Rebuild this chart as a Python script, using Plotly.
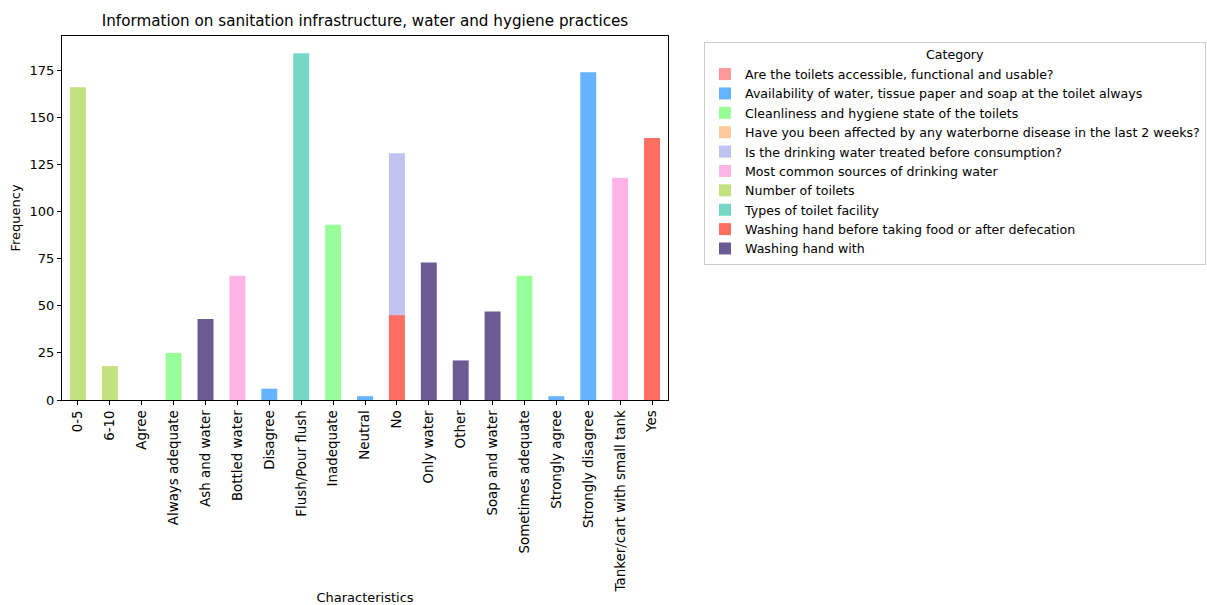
import plotly.graph_objects as go

characteristics = ["0-5", "6-10", "Agree", "Always adequate", "Ash and water", "Bottled water",
                   "Disagree", "Flush/Pour flush", "Inadequate", "Neutral", "No", "Only water",
                   "Other", "Soap and water", "Sometimes adequate", "Strongly agree",
                   "Strongly disagree", "Tanker/cart with small tank", "Yes"]

categories = [
    "Are the toilets accessible, functional and usable?",
    "Availability of water, tissue paper and soap at the toilet always",
    "Cleanliness and hygiene state of the toilets",
    "Have you been affected by any waterborne disease in the last 2 weeks?",
    "Is the drinking water treated before consumption?",
    "Most common sources of drinking water",
    "Number of toilets",
    "Types of toilet facility",
    "Washing hand before taking food or after defecation",
    "Washing hand with",
]

colors = ["#FF9999", "#66B3FF", "#99FF99", "#FFCC99", "#C2C2F0",
          "#FFB3E6", "#C4E17F", "#76D7C4", "#FF6F61", "#6B5B95"]

# counts per category, keyed by characteristic
toilets_accessible = {"Agree": 0}
availability = {"Disagree": 6, "Neutral": 2, "Strongly agree": 2, "Strongly disagree": 174}
cleanliness = {"Always adequate": 25, "Inadequate": 93, "Sometimes adequate": 66}
waterborne = {}
water_treated = {"No": 131}
drinking_sources = {"Bottled water": 66, "Tanker/cart with small tank": 118}
number_of_toilets = {"0-5": 166, "6-10": 18}
toilet_types = {"Flush/Pour flush": 184}
washing_before = {"No": 45, "Yes": 139}
washing_with = {"Ash and water": 43, "Only water": 73, "Other": 21, "Soap and water": 47}

series = [toilets_accessible, availability, cleanliness, waterborne, water_treated,
          drinking_sources, number_of_toilets, toilet_types, washing_before, washing_with]

W, H = 1207, 605
L, R, T, B = 62, 668, 36, 400  # plot area edges in pixels

fig = go.Figure()
for name, color, data in zip(categories, colors, series):
    xs = list(data.keys()) if data else [characteristics[0]]
    ys = list(data.values()) if data else [0]
    fig.add_trace(go.Bar(
        x=xs, y=ys, name=name, width=0.5,
        marker=dict(color=color, line=dict(width=0)),
    ))

font = "DejaVu Sans, Liberation Sans, sans-serif"
fig.update_layout(
    width=W, height=H,
    margin=dict(l=L, r=W - R, t=T, b=H - B, autoexpand=False),
    barmode="overlay",
    plot_bgcolor="white", paper_bgcolor="white",
    font=dict(family=font, size=13, color="#000000"),
    title=dict(text="Information on sanitation infrastructure, water and hygiene practices",
               x=(L + R) / 2 / W, xanchor="center", y=1 - 21 / H, yanchor="middle",
               font=dict(size=15.2, family=font)),
    legend=dict(
        title=dict(text="Category", side="top center", font=dict(size=12.6)),
        x=(704 - L) / (R - L), xanchor="left", y=(B - 42) / (B - T), yanchor="top",
        bordercolor="#CCCCCC", borderwidth=1, bgcolor="white",
        font=dict(size=12.6), traceorder="normal", tracegroupgap=0,
    ),
    showlegend=True,
)
fig.update_xaxes(
    categoryorder="array", categoryarray=characteristics,
    range=[-0.5, len(characteristics) - 0.5], automargin=False,
    tickangle=-90, ticks="outside", ticklen=4, tickcolor="black",
    tickfont=dict(size=13.4),
    showline=True, linecolor="black", linewidth=1, mirror=True,
    showgrid=False,
    title=dict(text="Characteristics", font=dict(size=13), standoff=12),
)
fig.update_yaxes(
    range=[0, 193.2], tickvals=[0, 25, 50, 75, 100, 125, 150, 175], automargin=False,
    ticks="outside", ticklen=4, tickcolor="black",
    showline=True, linecolor="black", linewidth=1, mirror=True,
    showgrid=False, zeroline=False,
    title=dict(text="Frequency", font=dict(size=13), standoff=6),
)

fig.write_html("out.html")
